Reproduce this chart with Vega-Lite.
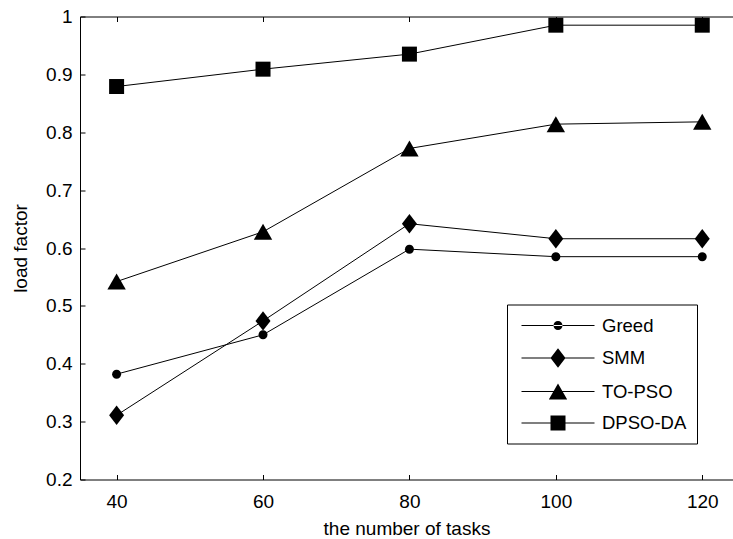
{
  "$schema": "https://vega.github.io/schema/vega-lite/v6.json",
  "width": 653,
  "height": 463,
  "autosize": {"type": "none"},
  "padding": {"left": 80, "top": 16.5, "right": 0, "bottom": 59.5},
  "background": "white",
  "config": {
    "view": {"stroke": null},
    "font": "Liberation Sans",
    "axis": {
      "domainColor": "black",
      "domainWidth": 1,
      "tickColor": "black",
      "tickWidth": 1,
      "tickSize": -5,
      "grid": false,
      "labelColor": "black",
      "labelFont": "Liberation Sans",
      "labelFontSize": 19,
      "titleColor": "black",
      "titleFont": "Liberation Sans",
      "titleFontSize": 19,
      "titleFontWeight": "normal"
    }
  },
  "data": {
    "values": [
      {"tasks": 40, "load": 0.382, "series": "Greed"},
      {"tasks": 60, "load": 0.45, "series": "Greed"},
      {"tasks": 80, "load": 0.598, "series": "Greed"},
      {"tasks": 100, "load": 0.585, "series": "Greed"},
      {"tasks": 120, "load": 0.585, "series": "Greed"},
      {"tasks": 40, "load": 0.311, "series": "SMM"},
      {"tasks": 60, "load": 0.474, "series": "SMM"},
      {"tasks": 80, "load": 0.642, "series": "SMM"},
      {"tasks": 100, "load": 0.616, "series": "SMM"},
      {"tasks": 120, "load": 0.616, "series": "SMM"},
      {"tasks": 40, "load": 0.542, "series": "TO-PSO"},
      {"tasks": 60, "load": 0.628, "series": "TO-PSO"},
      {"tasks": 80, "load": 0.772, "series": "TO-PSO"},
      {"tasks": 100, "load": 0.814, "series": "TO-PSO"},
      {"tasks": 120, "load": 0.818, "series": "TO-PSO"},
      {"tasks": 40, "load": 0.879, "series": "DPSO-DA"},
      {"tasks": 60, "load": 0.909, "series": "DPSO-DA"},
      {"tasks": 80, "load": 0.935, "series": "DPSO-DA"},
      {"tasks": 100, "load": 0.985, "series": "DPSO-DA"},
      {"tasks": 120, "load": 0.985, "series": "DPSO-DA"}
    ]
  },
  "resolve": {"axis": {"x": "independent"}, "scale": {"shape": "independent"}, "legend": {"shape": "independent"}},
  "layer": [
    {
      "mark": {"type": "line", "color": "black", "strokeWidth": 1},
      "encoding": {
        "x": {
          "field": "tasks", "type": "quantitative",
          "scale": {"domain": [35, 124.2], "nice": false, "zero": false},
          "axis": {"orient": "bottom", "values": [40, 60, 80, 100, 120], "title": "the number of tasks", "labelPadding": 18, "titlePadding": 8}
        },
        "y": {
          "field": "load", "type": "quantitative",
          "scale": {"domain": [0.2, 1], "nice": false, "zero": false},
          "axis": {"values": [0.2, 0.3, 0.4, 0.5, 0.6, 0.7, 0.8, 0.9, 1], "format": "~g", "title": "load factor", "labelPadding": 13, "titlePadding": 15}
        },
        "detail": {"field": "series", "type": "nominal"}
      }
    },
    {
      "mark": {"type": "point", "filled": true, "color": "black", "opacity": 1, "size": 400, "strokeWidth": 0},
      "encoding": {
        "x": {
          "field": "tasks", "type": "quantitative",
          "axis": {"orient": "top", "values": [40, 60, 80, 100, 120], "labels": false, "title": null}
        },
        "y": {"field": "load", "type": "quantitative"},
        "shape": {
          "field": "series", "type": "nominal",
          "scale": {
            "domain": ["Greed", "SMM", "TO-PSO", "DPSO-DA"],
            "range": [
              "M-0.45,0A0.45,0.45,0,1,0,0.45,0A0.45,0.45,0,1,0,-0.45,0Z",
              "M0,-0.97L0.75,0L0,0.97L-0.75,0Z",
              "M0,-0.8L0.92,0.8L-0.92,0.8Z",
              "M-0.75,-0.75L0.75,-0.75L0.75,0.75L-0.75,0.75Z"
            ]
          },
          "legend": null
        }
      }
    },
    {
      "transform": [{"filter": "false"}],
      "mark": {"type": "point", "filled": true, "color": "black", "opacity": 1, "size": 400, "strokeWidth": 0},
      "encoding": {
        "shape": {
          "field": "series", "type": "nominal",
          "scale": {
            "domain": ["Greed", "SMM", "TO-PSO", "DPSO-DA"],
            "range": [
              "M-3.65,-0.05L3.65,-0.05L3.65,0.05L-3.65,0.05ZM-0.45,0A0.45,0.45,0,1,0,0.45,0A0.45,0.45,0,1,0,-0.45,0Z",
              "M-3.65,-0.05L3.65,-0.05L3.65,0.05L-3.65,0.05ZM0,-0.97L0.75,0L0,0.97L-0.75,0Z",
              "M-3.65,-0.05L3.65,-0.05L3.65,0.05L-3.65,0.05ZM0,-0.8L0.92,0.8L-0.92,0.8Z",
              "M-3.65,-0.05L3.65,-0.05L3.65,0.05L-3.65,0.05ZM-0.75,-0.75L0.75,-0.75L0.75,0.75L-0.75,0.75Z"
            ]
          },
          "legend": {
            "title": null,
            "orient": "none",
            "legendX": 427,
            "legendY": 288,
            "padding": 10,
            "fillColor": "white",
            "strokeColor": "black",
            "cornerRadius": 0,
            "labelFont": "Liberation Sans",
            "labelFontSize": 18.5,
            "labelColor": "black",
            "symbolSize": 400,
            "symbolOffset": 30,
            "labelOffset": 33,
            "rowPadding": 9.5
          }
        }
      }
    }
  ]
}
